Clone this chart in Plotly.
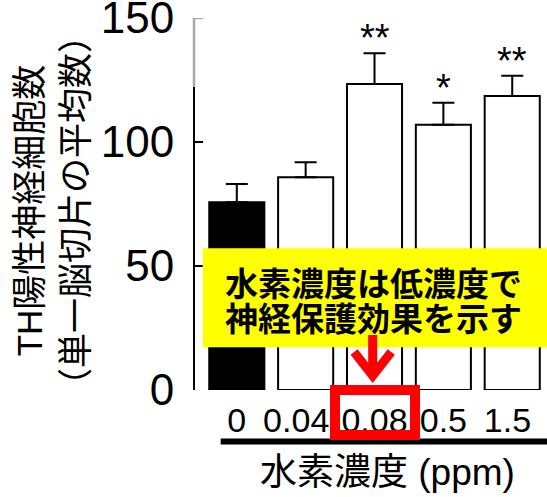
import plotly.graph_objects as go

# ---- data ----
categories = ["0", "0.04", "0.08", "0.5", "1.5"]
tick_labels = ["0", "0.04\u00a0\u00a0", "0.08", "0.5", "1.5\u00a0"]
means = [75.7, 85.8, 123.4, 107.0, 118.5]
errors = [7.4, 6.0, 12.4, 8.8, 8.2]
significance = ["", "", "**", "*", "**"]
bar_fill = ["black", "white", "white", "white", "white"]
y_ticks = [0, 50, 100, 150]
y_title_lines = ["TH陽性神経細胞数", "（単一脳切片の平均数）"]
x_title = "水素濃度 (ppm)"
callout_lines = ["水素濃度は低濃度で", "神経保護効果を示す"]

LATIN = "Liberation Sans, Arial, Noto Sans CJK JP, sans-serif"
CJK_BOLD = "Noto Sans CJK JP, sans-serif"

fig = go.Figure(
    go.Bar(
        x=categories,
        y=means,
        width=0.8,
        marker=dict(color=bar_fill, line=dict(color="black", width=2)),
        error_y=dict(
            type="data",
            symmetric=False,
            array=errors,
            arrayminus=[0 for _ in errors],
            color="black",
            thickness=2,
            width=11,
        ),
        hoverinfo="skip",
    )
)

shapes = [
    # yellow callout box
    dict(type="rect", xref="paper", yref="paper", x0=0.0219, x1=1.0, y0=0.1148, y1=0.381,
         fillcolor="#ffff00", line=dict(width=0), layer="above"),
    # thick black line under the tick labels
    dict(type="line", xref="paper", yref="paper", x0=0.073, x1=1.0, y0=-0.1384, y1=-0.1384,
         line=dict(color="black", width=6)),
    # red frame around 0.08
    dict(type="rect", xref="paper", yref="paper", x0=0.3977, x1=0.625, y0=-0.121, y1=0.0,
         line=dict(color="#ff0000", width=10), fillcolor="rgba(0,0,0,0)"),
    # red arrow
    dict(type="path", xref="paper", yref="paper",
         path="M0.5048,0.1478 L0.5048,0.04 M0.4520,0.102 L0.5048,0.0385 L0.5576,0.102",
         line=dict(color="#ff0000", width=9)),
    # greyed upper part of the y axis
    dict(type="path", xref="paper", yref="y",
         path="M-0.0028,122.2 L-0.0028,150 L0.0227,150",
         line=dict(color="#a8a8a8", width=2.5)),
]

annotations = []
for i, (m, e, s) in enumerate(zip(means, errors, significance)):
    if s:
        annotations.append(dict(x=i, y=m + e, xref="x", yref="y", text=s, showarrow=False,
                                yanchor="middle", yshift=15,
                                font=dict(family=LATIN, size=38, color="black")))

for txt, yp in zip(callout_lines, [0.2890, 0.1950]):
    annotations.append(dict(x=0.5057, y=yp, xref="paper", yref="paper", text="<b>" + txt + "</b>",
                            showarrow=False, xanchor="center", yanchor="middle",
                            font=dict(family=CJK_BOLD, size=33, color="black")))

annotations.append(dict(x=0.547, y=-0.223, xref="paper", yref="paper", text=x_title,
                        showarrow=False, xanchor="center", yanchor="middle",
                        font=dict(family=LATIN, size=37, color="black")))

annotations.append(dict(x=-0.4034, y=0.4812, xref="paper", yref="paper",
                        text="<br>".join(y_title_lines), textangle=-90,
                        showarrow=False, xanchor="center", yanchor="middle", align="center",
                        font=dict(family=LATIN, size=35, color="black")))

fig.update_layout(
    width=547,
    height=497,
    autosize=False,
    margin=dict(l=195, r=0, t=18, b=107, pad=0),
    paper_bgcolor="white",
    plot_bgcolor="white",
    showlegend=False,
    bargap=0.2,
    shapes=shapes,
    annotations=annotations,
    xaxis=dict(
        type="category",
        range=[-0.607, 4.505],
        tickmode="array",
        tickvals=categories,
        ticktext=tick_labels,
        tickangle=0,
        ticks="",
        showline=False,
        showgrid=False,
        zeroline=False,
        automargin=False,
        ticklabelstandoff=7,
        tickfont=dict(family=LATIN, size=34, color="black"),
        fixedrange=True,
    ),
    yaxis=dict(
        range=[0, 150],
        tickmode="array",
        tickvals=y_ticks,
        ticks="inside",
        ticklen=8,
        tickwidth=2,
        tickcolor="black",
        showline=True,
        linecolor="black",
        linewidth=2,
        showgrid=False,
        zeroline=False,
        automargin=False,
        ticklabeloverflow="allow",
        ticklabelstandoff=10,
        tickfont=dict(family=LATIN, size=44, color="black"),
        fixedrange=True,
    ),
)

fig.write_html(
    "out.html",
    config={"displayModeBar": False},
    post_script="document.body.style.margin='0';document.body.style.padding='0';",
)
